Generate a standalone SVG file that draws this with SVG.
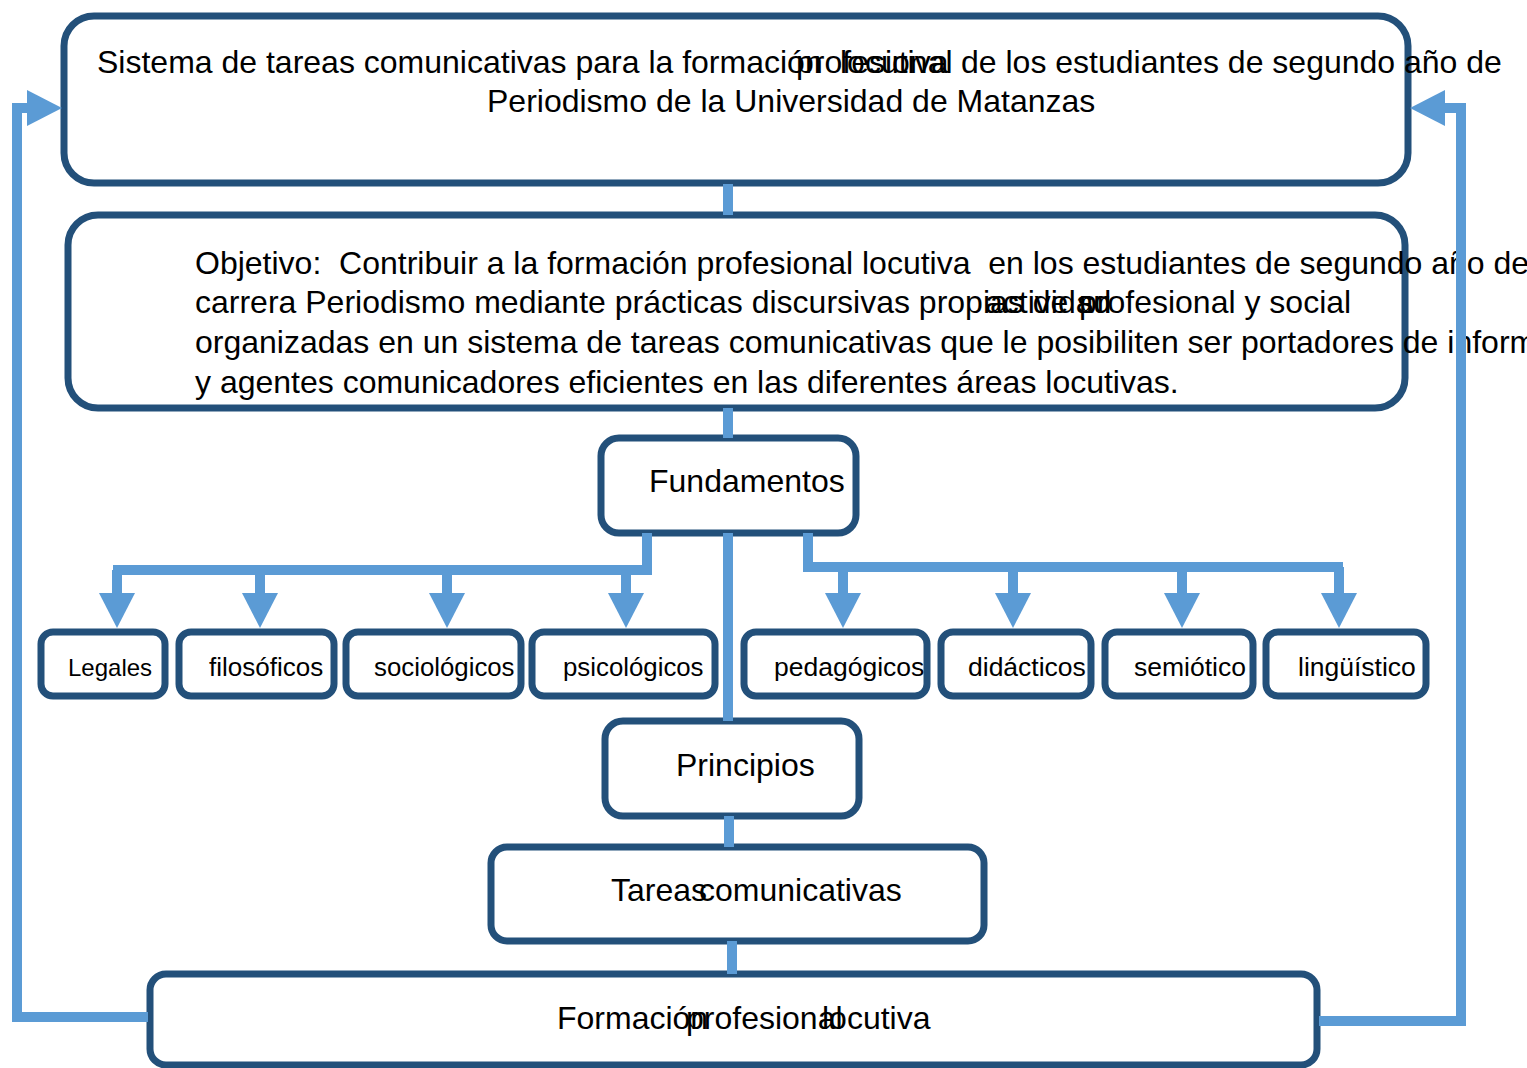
<svg xmlns="http://www.w3.org/2000/svg" width="1527" height="1068" viewBox="0 0 1527 1068">
<defs>
<style>
.box{fill:#ffffff;stroke:#23507A;stroke-width:7}
.t{font-family:"Liberation Sans",Arial,sans-serif;fill:#000000}
.big{font-size:32px}
.sm{font-size:26.5px}
.con{fill:none;stroke:#5B9BD5;stroke-width:10;stroke-linecap:butt;stroke-linejoin:miter}
</style>
<marker id="ah" markerUnits="userSpaceOnUse" markerWidth="36" markerHeight="36" viewBox="0 0 36 36" refX="0" refY="18" orient="auto">
<path d="M0,0 L35,18 L0,36 Z" fill="#5B9BD5"/>
</marker>
</defs>
<rect width="1527" height="1068" fill="#ffffff"/>

<g id="n-sistema">
<rect class="box" x="64" y="16" width="1344" height="167" rx="30"/>
<text class="t big" x="97" y="73">Sistema de tareas comunicativas para la formación</text>
<text class="t big" x="796" y="73">profesional</text>
<text class="t big" x="840" y="73">locutiva</text>
<text class="t big" x="961" y="73">de los estudiantes de segundo año de</text>
<text class="t big" x="487" y="112">Periodismo de la Universidad de Matanzas</text>
</g>

<g id="n-objetivo">
<rect class="box" x="68" y="215" width="1337" height="193" rx="30"/>
<text class="t big" x="195" y="274" xml:space="preserve">Objetivo:  Contribuir a la formación profesional locutiva  en los estudiantes de segundo año de</text>
<text class="t big" x="195" y="313">carrera Periodismo mediante prácticas discursivas propias de su</text>
<text class="t big" x="985" y="313">actividad</text>
<text class="t big" x="1079" y="313">profesional y social</text>
<text class="t big" x="195" y="353">organizadas en un sistema de tareas comunicativas que le posibiliten ser portadores de información</text>
<text class="t big" x="195" y="393">y agentes comunicadores eficientes en las diferentes áreas locutivas.</text>
</g>

<g id="n-fundamentos">
<rect class="box" x="601" y="438" width="255" height="95" rx="18"/>
<text class="t big" x="649" y="492">Fundamentos</text>
</g>

<g id="n-legales">
<rect class="box" x="41" y="632" width="124" height="64" rx="12"/>
<text class="t" font-size="24" x="68" y="676">Legales</text>
</g>
<g id="n-filosoficos">
<rect class="box" x="179" y="632" width="155" height="64" rx="12"/>
<text class="t" font-size="26" x="209" y="676">filosóficos</text>
</g>
<g id="n-sociologicos">
<rect class="box" x="346" y="632" width="175" height="64" rx="12"/>
<text class="t" font-size="25.8" x="374" y="676">sociológicos</text>
</g>
<g id="n-psicologicos">
<rect class="box" x="532" y="632" width="183" height="64" rx="12"/>
<text class="t" font-size="25.8" x="563" y="676">psicológicos</text>
</g>
<g id="n-pedagogicos">
<rect class="box" x="744" y="632" width="183" height="64" rx="12"/>
<text class="t sm" x="774" y="676">pedagógicos</text>
</g>
<g id="n-didacticos">
<rect class="box" x="941" y="632" width="150" height="64" rx="12"/>
<text class="t sm" x="968" y="676">didácticos</text>
</g>
<g id="n-semiotico">
<rect class="box" x="1105" y="632" width="148" height="64" rx="12"/>
<text class="t sm" x="1134" y="676">semiótico</text>
</g>
<g id="n-linguistico">
<rect class="box" x="1266" y="632" width="160" height="64" rx="12"/>
<text class="t sm" x="1298" y="676">lingüístico</text>
</g>

<g id="n-principios">
<rect class="box" x="605" y="721" width="254" height="95" rx="18"/>
<text class="t big" x="676" y="776">Principios</text>
</g>

<g id="n-tareas">
<rect class="box" x="491" y="847" width="493" height="94" rx="16"/>
<text class="t big" x="611" y="901">Tareas</text>
<text class="t big" x="699" y="901">comunicativas</text>
</g>

<g id="n-formacion">
<rect class="box" x="150" y="974" width="1167" height="91" rx="16"/>
<text class="t big" x="557" y="1029">Formación</text>
<text class="t big" x="686" y="1029">profesional</text>
<text class="t big" x="822" y="1029">locutiva</text>
</g>

<g id="connectors">
<path class="con" d="M728,184 V215"/>
<path class="con" d="M728,408 V438"/>
<path class="con" d="M728,533 V721"/>
<path class="con" d="M647,533 V570 H113"/>
<path class="con" d="M117,570 V593" marker-end="url(#ah)"/>
<path class="con" d="M260,570 V593" marker-end="url(#ah)"/>
<path class="con" d="M447,570 V593" marker-end="url(#ah)"/>
<path class="con" d="M626,570 V593" marker-end="url(#ah)"/>
<path class="con" d="M808,533 V567 H1343"/>
<path class="con" d="M843,567 V593" marker-end="url(#ah)"/>
<path class="con" d="M1013,567 V593" marker-end="url(#ah)"/>
<path class="con" d="M1182,567 V593" marker-end="url(#ah)"/>
<path class="con" d="M1339,567 V593" marker-end="url(#ah)"/>
<path class="con" d="M729,816 V847"/>
<path class="con" d="M732,941 V974"/>
<path class="con" d="M148,1017 H17 V108 H27" marker-end="url(#ah)"/>
<path class="con" d="M1319,1021 H1461 V108 H1445" marker-end="url(#ah)"/>
</g>
</svg>
